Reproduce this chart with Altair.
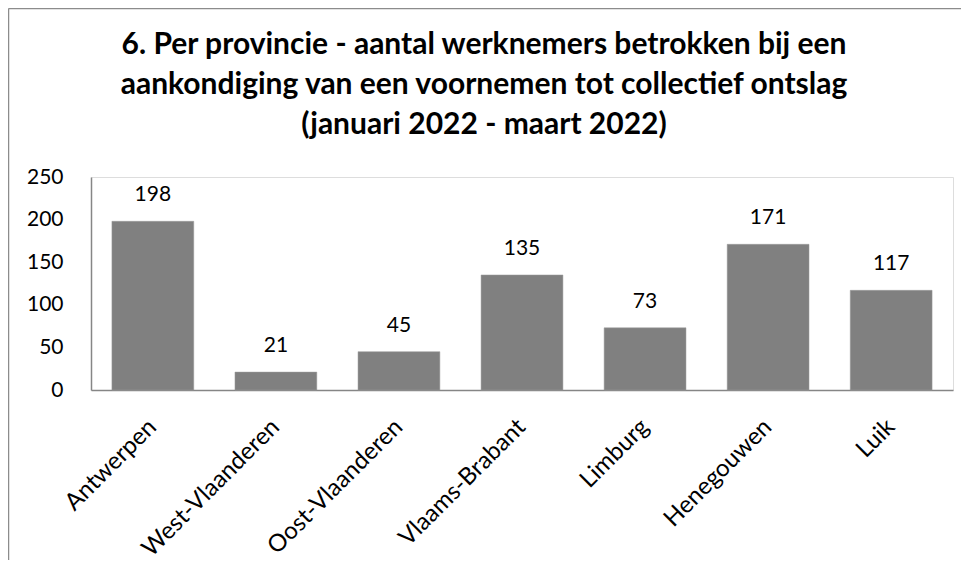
import altair as alt
import pandas as pd

provinces = ["Antwerpen", "West-Vlaanderen", "Oost-Vlaanderen", "Vlaams-Brabant",
             "Limburg", "Henegouwen", "Luik"]
values = [198, 21, 45, 135, 73, 171, 117]
title_lines = ["6. Per provincie - aantal werknemers betrokken bij een",
               "aankondiging van een voornemen tot collectief ontslag",
               "(januari 2022 - maart 2022)"]

df = pd.DataFrame({"prov": provinces, "val": values})
FONT = "Lato"
GRAY = "#868686"

x = alt.X("prov:N", sort=provinces, title=None,
          scale=alt.Scale(paddingInner=0.335, paddingOuter=0.17),
          axis=alt.Axis(labelAngle=-45, labelAlign="right", labelBaseline="middle",
                        ticks=False, labelPadding=33, labelFontSize=24, labelFont=FONT,
                        labelColor="black", domainColor=GRAY, domainWidth=1.5,
                        labelLimit=300))
y = alt.Y("val:Q", title=None,
          scale=alt.Scale(domain=[0, 250], nice=False),
          axis=alt.Axis(values=[0, 50, 100, 150, 200, 250], grid=False, ticks=False,
                        labelPadding=28, labelFontSize=21, labelFont=FONT,
                        labelColor="black", domainColor=GRAY, domainWidth=1.5))

bars = alt.Chart(df).mark_bar(color="#808080", stroke="#9a9a9a", strokeWidth=0.5).encode(x=x, y=y)
labels = alt.Chart(df).mark_text(dy=-20, baseline="alphabetic", fontSize=21, font=FONT,
                                 color="black").encode(x=alt.X("prov:N", sort=provinces),
                                                       y="val:Q", text="val:Q")

one = pd.DataFrame({"a": [0]})
frame_left = alt.Chart(one).mark_rule(color="#8c8c8c", strokeWidth=1.5).encode(
    x=alt.value(-82.5), y=alt.value(-168.5), y2=alt.value(390))
frame_top = alt.Chart(one).mark_rule(color="#8c8c8c", strokeWidth=1.5).encode(
    x=alt.value(-82.5), x2=alt.value(880), y=alt.value(-168.5))

title_y = [-132, -92, -52]
title_layers = [
    alt.Chart(one).mark_text(font=FONT, fontSize=30, fontWeight="bold", color="black",
                             baseline="middle", align="center").encode(
        x=alt.value(393), y=alt.value(ty), text=alt.value(line))
    for line, ty in zip(title_lines, title_y)
]

chart = alt.layer(bars, labels, frame_left, frame_top, *title_layers).properties(
    width=862, height=213,
    autosize=alt.AutoSizeParams(type="none"),
    padding={"left": 83, "top": 169, "right": 8, "bottom": 170},
).configure_view(stroke=None).configure(background="white")

chart.save("out.html", embed_options={"renderer": "svg", "actions": False})
